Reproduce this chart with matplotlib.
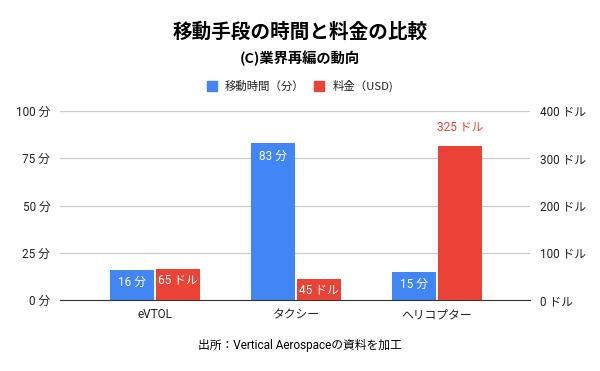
import matplotlib
matplotlib.use("Agg")
import matplotlib.pyplot as plt
import numpy as np

plt.rcParams['font.family'] = ['Roboto', 'Noto Sans CJK JP', 'DejaVu Sans']
CJK = ['Noto Sans CJK JP', 'DejaVu Sans']

categories = ['eVTOL', 'タクシー', 'ヘリコプター']
minutes = [16, 83, 15]
fares_usd = [65, 45, 325]
fare_label_outside = [False, False, True]
min_ticks = [0, 25, 50, 75, 100]
usd_ticks = [0, 100, 200, 300, 400]

BLUE = '#4285F4'
RED = '#EA4335'

fig = plt.figure(figsize=(6, 3.71), dpi=100)
ax = fig.add_axes([60 / 600, 1 - 300 / 371, 470 / 600, 189 / 371])
ax2 = ax.twinx()

x = np.arange(len(categories))
w = 0.312
gap = 0.007
ax.bar(x - w / 2 - gap, minutes, w, color=BLUE, zorder=3)
ax2.bar(x + w / 2 + gap, fares_usd, w, color=RED, zorder=3)

ax.set_xlim(-0.674, 2.66)
ax.set_ylim(0, 100)
ax2.set_ylim(0, 400)

ax.set_yticks(min_ticks)
ax.set_yticklabels([f'{t} 分' for t in min_ticks])
ax2.set_yticks(usd_ticks)
ax2.set_yticklabels([f'{t} ドル' for t in usd_ticks])
ax.set_xticks(x)
ax.set_xticklabels(categories)

for a in (ax, ax2):
    for s in a.spines.values():
        s.set_visible(False)
    a.tick_params(length=0, labelsize=8.5, colors='#222222')
ax.tick_params(axis='y', pad=7)
ax2.tick_params(axis='y', pad=7)
ax.tick_params(axis='x', pad=6)
ax.spines['bottom'].set_visible(True)
ax.spines['bottom'].set_color('#333333')
ax.spines['bottom'].set_zorder(4)
ax.yaxis.grid(True, color='#cccccc', linewidth=0.9, zorder=0)
ax.set_axisbelow(True)

for xi, v in zip(x, minutes):
    ax.annotate(f'{v} 分', (xi - w / 2 - gap, v), xytext=(0, -13),
                textcoords='offset pixels', ha='center', va='center',
                color='white', fontsize=8.5, zorder=5)
for xi, v, outside in zip(x, fares_usd, fare_label_outside):
    if outside:
        ax2.annotate(f'{v} ドル', (xi + w / 2 + gap, v), xytext=(0, 19),
                     textcoords='offset pixels', ha='center', va='center',
                     color=RED, fontsize=8.5, zorder=5)
    else:
        ax2.annotate(f'{v} ドル', (xi + w / 2 + gap, v), xytext=(0, -11),
                     textcoords='offset pixels', ha='center', va='center',
                     color='white', fontsize=8.5, zorder=5)

fig.text(0.5, 1 - 32 / 371, '移動手段の時間と料金の比較', ha='center', va='center',
         fontsize=14.1, fontweight='bold', family=CJK)
fig.text(0.5, 1 - 58 / 371, '(C)業界再編の動向', ha='center', va='center',
         fontsize=10.3, fontweight='bold', family=CJK)

# legend
fig.patches.append(plt.Rectangle((207 / 600, 1 - 91 / 371), 10 / 600, 10 / 371,
                                 transform=fig.transFigure, color=BLUE))
fig.text(225 / 600, 1 - 86 / 371, '移動時間（分）', ha='left', va='center',
         fontsize=8.2, family=CJK, color='#222222')
fig.patches.append(plt.Rectangle((314 / 600, 1 - 91 / 371), 10 / 600, 10 / 371,
                                 transform=fig.transFigure, color=RED))
fig.text(333 / 600, 1 - 86 / 371, '料金（USD)', ha='left', va='center',
         fontsize=8.2, family=CJK, color='#222222')

fig.text(0.5, 1 - 345 / 371, '出所：Vertical Aerospaceの資料を加工', ha='center',
         va='center', fontsize=8.5, family=['Roboto', 'Noto Sans CJK JP'])

fig.savefig('out.png', dpi=100)
